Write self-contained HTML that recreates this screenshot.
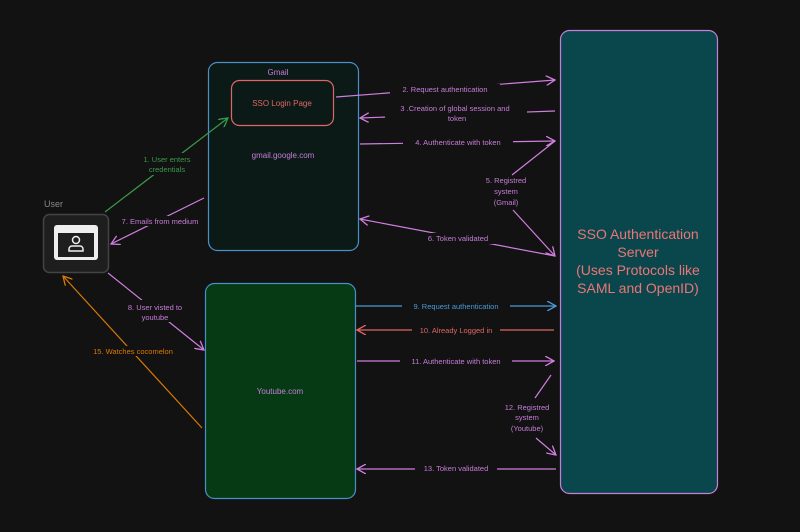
<!DOCTYPE html>
<html><head><meta charset="utf-8"><style>
html,body{margin:0;padding:0;background:#121212;}
svg{display:block}
text{font-family:"Liberation Sans",sans-serif;}
</style></head><body>
<svg width="800" height="532" viewBox="0 0 800 532" xmlns="http://www.w3.org/2000/svg">
<defs>
<marker id="ap" markerWidth="10" markerHeight="10" refX="9" refY="5" orient="auto" markerUnits="userSpaceOnUse"><path d="M0,0 L9,5 L0,10" fill="none" stroke="#d07ee0" stroke-width="1.3"/></marker>
<marker id="ab" markerWidth="10" markerHeight="10" refX="9" refY="5" orient="auto" markerUnits="userSpaceOnUse"><path d="M0,0 L9,5 L0,10" fill="none" stroke="#4a9ad8" stroke-width="1.3"/></marker>
<marker id="ar" markerWidth="10" markerHeight="10" refX="9" refY="5" orient="auto" markerUnits="userSpaceOnUse"><path d="M0,0 L9,5 L0,10" fill="none" stroke="#e06666" stroke-width="1.3"/></marker>
<marker id="ag" markerWidth="10" markerHeight="10" refX="9" refY="5" orient="auto" markerUnits="userSpaceOnUse"><path d="M0,0 L9,5 L0,10" fill="none" stroke="#3a9a4a" stroke-width="1.3"/></marker>
<marker id="ao" markerWidth="10" markerHeight="10" refX="9" refY="5" orient="auto" markerUnits="userSpaceOnUse"><path d="M0,0 L9,5 L0,10" fill="none" stroke="#d97a06" stroke-width="1.3"/></marker>
</defs>
<rect width="800" height="532" fill="#121212"/>
<rect x="208.5" y="62.5" width="150" height="188" rx="9" fill="#0b1a17" stroke="#4a90c8" stroke-width="1.2"/>
<text x="278" y="75" font-size="8" fill="#c77ed8" text-anchor="middle">Gmail</text>
<rect x="231.5" y="80.5" width="102" height="45" rx="8" fill="#0b1a17" stroke="#e06666" stroke-width="1.2"/>
<text x="282" y="106" font-size="8" fill="#e06666" text-anchor="middle">SSO Login Page</text>
<text x="283" y="158" font-size="8" fill="#c77ed8" text-anchor="middle">gmail.google.com</text>
<rect x="205.5" y="283.5" width="150" height="215" rx="9" fill="#063a14" stroke="#4a90c8" stroke-width="1.2"/>
<text x="280" y="394" font-size="8" fill="#c77ed8" text-anchor="middle">Youtube.com</text>
<rect x="560.5" y="30.5" width="157" height="463" rx="9" fill="#0a474d" stroke="#c77ed8" stroke-width="1.2"/>
<g font-size="14" fill="#ec7575" text-anchor="middle">
<text x="638" y="239">SSO Authentication</text>
<text x="638" y="257">Server</text>
<text x="638" y="275">(Uses Protocols like</text>
<text x="638" y="293">SAML and OpenID)</text>
</g>
<text x="44" y="207" font-size="9" fill="#888">User</text>
<rect x="43.5" y="214.5" width="65" height="58" rx="6" fill="#1e1e1e" stroke="#444" stroke-width="1.5"/>
<rect x="54" y="225" width="44" height="35" rx="3" fill="#eee"/>
<rect x="58" y="233" width="36" height="24" fill="#1e1e1e"/>
<circle cx="76" cy="240" r="3.5" fill="none" stroke="#eee" stroke-width="1.5"/>
<path d="M69,251 v-2 a3,3 0 0 1 3,-3 h8 a3,3 0 0 1 3,3 v2 z" fill="none" stroke="#eee" stroke-width="1.5"/>
<g fill="none" stroke-width="1.2">
<path d="M105,212 L228,118" stroke="#3a9a4a" marker-end="url(#ag)"/>
<path d="M204,198 L111,244" stroke="#d07ee0" marker-end="url(#ap)"/>
<path d="M108,273 L204,350" stroke="#d07ee0" marker-end="url(#ap)"/>
<path d="M202,428 L63,276" stroke="#d97a06" marker-end="url(#ao)"/>
<path d="M336,97 L555,80" stroke="#d07ee0" marker-end="url(#ap)"/>
<path d="M555,111 L360,118" stroke="#d07ee0" marker-end="url(#ap)"/>
<path d="M360,144 L555,141" stroke="#d07ee0" marker-end="url(#ap)"/>
<path d="M512,175 L555,141" stroke="#d07ee0"/>
<path d="M513,210 L555,256" stroke="#d07ee0" marker-end="url(#ap)"/>
<path d="M555,256 L360,219" stroke="#d07ee0" marker-end="url(#ap)"/>
<path d="M356,306 L556,306" stroke="#4a9ad8" marker-end="url(#ab)"/>
<path d="M554,330 L357,330" stroke="#e06666" marker-end="url(#ar)"/>
<path d="M357,361 L554,361" stroke="#d07ee0" marker-end="url(#ap)"/>
<path d="M551,375 L535,398" stroke="#d07ee0"/>
<path d="M536,438 L556,455" stroke="#d07ee0" marker-end="url(#ap)"/>
<path d="M556,469 L357,469" stroke="#d07ee0" marker-end="url(#ap)"/>
</g>
<g font-size="7.5" text-anchor="middle">
<rect x="130" y="153" width="72" height="22" fill="#121212"/>
<text x="167" y="162" fill="#3a9a4a">1. User enters</text>
<text x="167" y="172" fill="#3a9a4a">credentials</text>
<rect x="114" y="216" width="92" height="10" fill="#121212"/>
<text x="160" y="224" fill="#c77ed8">7. Emails from medium</text>
<rect x="115" y="300" width="80" height="22" fill="#121212"/>
<text x="155" y="310" fill="#c77ed8">8. User visted to</text>
<text x="155" y="320" fill="#c77ed8">youtube</text>
<rect x="85" y="346" width="96" height="10" fill="#121212"/>
<text x="133" y="354" fill="#d97a06">15. Watches cocomelon</text>
<rect x="390" y="84" width="110" height="10" fill="#121212"/>
<text x="445" y="92" fill="#c77ed8">2. Request authentication</text>
<rect x="385" y="103" width="142" height="22" fill="#121212"/>
<text x="455" y="111" fill="#c77ed8">3 .Creation of global session and</text>
<text x="457" y="121" fill="#c77ed8">token</text>
<rect x="403" y="138" width="110" height="10" fill="#121212"/>
<text x="458" y="145" fill="#c77ed8">4. Authenticate with token</text>
<text x="506" y="183" fill="#c77ed8">5. Registred</text>
<text x="506" y="194" fill="#c77ed8">system</text>
<text x="506" y="205" fill="#c77ed8">(Gmail)</text>
<rect x="418" y="233" width="80" height="11" fill="#121212"/>
<text x="458" y="241" fill="#c77ed8">6. Token validated</text>
<rect x="402" y="301" width="108" height="10" fill="#121212"/>
<text x="456" y="309" fill="#4a9ad8">9. Request authentication</text>
<rect x="412" y="325" width="88" height="10" fill="#121212"/>
<text x="456" y="333" fill="#e06666">10. Already Logged in</text>
<rect x="400" y="356" width="112" height="10" fill="#121212"/>
<text x="456" y="364" fill="#c77ed8">11. Authenticate with token</text>
<text x="527" y="410" fill="#c77ed8">12. Registred</text>
<text x="527" y="420" fill="#c77ed8">system</text>
<text x="527" y="431" fill="#c77ed8">(Youtube)</text>
<rect x="415" y="464" width="82" height="10" fill="#121212"/>
<text x="456" y="471" fill="#c77ed8">13. Token validated</text>
</g>
</svg>
</body></html>
